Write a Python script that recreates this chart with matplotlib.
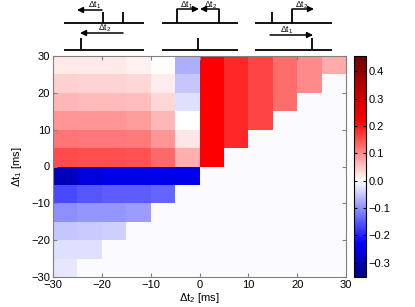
import numpy as np
import matplotlib
matplotlib.use("Agg")
import matplotlib.pyplot as plt
from matplotlib.colors import LinearSegmentedColormap
from matplotlib.lines import Line2D
from matplotlib.patches import FancyArrowPatch

plt.rcParams['font.family'] = ['Liberation Sans', 'DejaVu Sans']
plt.rcParams['mathtext.fontset'] = 'custom'
plt.rcParams['mathtext.rm'] = 'Liberation Sans'
plt.rcParams['mathtext.it'] = 'Liberation Sans'

# bin edges in ms (5 ms bins)
dt2_edges = np.arange(-30, 35, 5)
dt1_edges = np.arange(-30, 35, 5)

# dt1 > 0, dt2 < 0 : full block, rows from dt1=25..30 down to 0..5
upper_left = [
    [0.020, 0.018, 0.018, 0.012, 0.002, -0.072],
    [0.040, 0.038, 0.038, 0.034, 0.015, -0.052],
    [0.062, 0.060, 0.060, 0.056, 0.035, -0.027],
    [0.092, 0.090, 0.090, 0.085, 0.062, 0.000],
    [0.120, 0.118, 0.118, 0.112, 0.092, 0.022],
    [0.155, 0.152, 0.152, 0.148, 0.130, 0.068],
]
# dt1 > 0, dt2 > 0 : one value per dt2 column (triangle)
upper_right = [0.225, 0.185, 0.16, 0.125, 0.10, 0.073]
# dt1 < 0 : rows from dt1=-5..0 down to -30..-25 (triangle)
lower_rows = [
    [-0.295, -0.262, -0.25, -0.25, -0.25, -0.245],
    [-0.165, -0.15, -0.145, -0.145, -0.14],
    [-0.10, -0.095, -0.095, -0.09],
    [-0.05, -0.048, -0.045],
    [-0.03, -0.027],
    [-0.022],
]
empty_value = -0.003

cb_ticks = [-0.3, -0.2, -0.1, 0, 0.1, 0.2, 0.3, 0.4]
vmin, vmax = -0.352, 0.456

# assemble grid (row 0 = dt1 -30..-25)
Z = np.full((12, 12), empty_value)
for i, row in enumerate(upper_left):
    Z[11 - i, :6] = row
for j, v in enumerate(upper_right):
    for i in range(j, 6):
        Z[6 + i, 6 + j] = v
for i, row in enumerate(lower_rows):
    Z[5 - i, :len(row)] = row

def frac(v):
    return (v - vmin) / (vmax - vmin)

cmap = LinearSegmentedColormap.from_list("bwr_dark", [
    (0.0, (0, 0, 0.5)),
    (frac(-0.23), (0, 0, 1)),
    (frac(0.0), (1, 1, 1)),
    (frac(0.22), (1, 0, 0)),
    (1.0, (0.45, 0, 0)),
])

fig = plt.figure(figsize=(4.15, 3.07), dpi=100)
W, H = 415, 307
ax = fig.add_axes([53 / W, 1 - 277 / H, 293 / W, 221 / H])
cax = fig.add_axes([354 / W, 1 - 277 / H, 12 / W, 221 / H])

mesh = ax.pcolormesh(dt2_edges, dt1_edges, Z, cmap=cmap, vmin=vmin, vmax=vmax)
ax.set_xlim(-30, 30)
ax.set_ylim(-30, 30)
ax.set_xticks(range(-30, 31, 10))
ax.set_yticks(range(-30, 31, 10))
ax.tick_params(direction='in', length=3, top=True, right=True, labelsize=8,
               color='#808080', pad=2)
for s in ax.spines.values():
    s.set_color('#808080')
ax.set_xlabel(r'$\Delta$t$_2$ [ms]', fontsize=8, labelpad=1)
ax.set_ylabel(r'$\Delta$t$_1$ [ms]', fontsize=8, labelpad=5)

cb = fig.colorbar(mesh, cax=cax, ticks=cb_ticks)
cb.ax.tick_params(direction='in', length=2.5, labelsize=8, left=True, pad=2)
cb.outline.set_linewidth(0.8)

# schematics above the plot (pixel coordinates)
def P(x, y):
    return (x / W, 1 - y / H)

def seg(x0, y0, x1, y1):
    a, b = P(x0, y0), P(x1, y1)
    fig.add_artist(Line2D([a[0], b[0]], [a[1], b[1]], color='black', lw=1.3,
                          transform=fig.transFigure, solid_capstyle='butt'))

def arrow(x0, x1, y):
    fig.add_artist(FancyArrowPatch(P(x0, y), P(x1, y), transform=fig.transFigure,
                                   arrowstyle='-|>', mutation_scale=8.5, lw=1.1,
                                   color='black', shrinkA=0, shrinkB=0))

def label(x, y, s):
    fig.text(*P(x, y), s, fontsize=6.2, ha='center', va='center')

# left schematic
seg(64, 22.7, 144, 22.7)
seg(103, 12, 103, 22.7)
seg(123, 12, 123, 22.7)
arrow(102, 77, 10)
label(95, 5.5, r'$\Delta$t$_1$')
seg(64, 50, 144, 50)
seg(81, 38, 81, 50)
arrow(123, 80, 33)
label(105, 28, r'$\Delta$t$_2$')

# middle schematic
seg(162, 22.7, 238, 22.7)
seg(177, 9, 177, 22.7)
seg(219, 9, 219, 22.7)
arrow(177, 199, 9)
arrow(219, 200, 9)
label(187, 5.5, r'$\Delta$t$_1$')
label(211, 5.5, r'$\Delta$t$_2$')
seg(162, 50, 238, 50)
seg(198, 38, 198, 50)

# right schematic
seg(255, 22.7, 332, 22.7)
seg(272, 12, 272, 22.7)
seg(292, 9, 292, 22.7)
arrow(292, 314, 9)
label(302, 5.5, r'$\Delta$t$_2$')
seg(255, 50, 332, 50)
seg(312, 38, 312, 50)
arrow(270, 313, 35)
label(287, 30, r'$\Delta$t$_1$')

fig.savefig("out.png", dpi=100)
